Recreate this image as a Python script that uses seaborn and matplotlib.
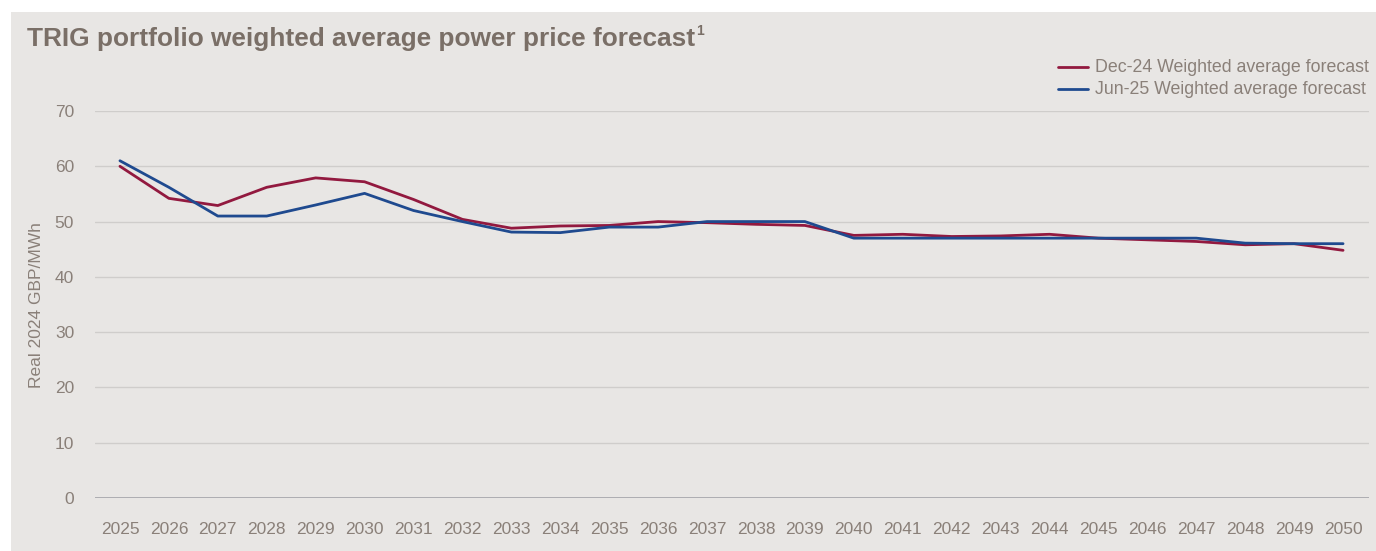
import pandas as pd
import matplotlib.pyplot as plt
import seaborn as sns
from matplotlib.patches import Rectangle

# =========================
# DATA
# =========================

years = list(range(2025, 2051))

dec24 = [60.0, 54.2, 52.9, 56.2, 57.9, 57.2, 54.0, 50.4, 48.8, 49.2,
         49.3, 50.0, 49.8, 49.5, 49.3, 47.5, 47.7, 47.3, 47.4, 47.7,
         47.0, 46.7, 46.4, 45.8, 46.0, 44.8]

jun25 = [61.0, 56.2, 51.0, 51.0, 53.0, 55.1, 52.0, 50.0, 48.1, 48.0,
         49.0, 49.0, 50.0, 50.0, 50.0, 47.0, 47.0, 47.0, 47.0, 47.0,
         47.0, 47.0, 47.0, 46.1, 46.0, 46.0]

series_names = ["Dec-24 Weighted average forecast", "Jun-25 Weighted average forecast"]
y_ticks = [0, 10, 20, 30, 40, 50, 60, 70]

df = pd.DataFrame({
    "year": years * 2,
    "price": dec24 + jun25,
    "series": [series_names[0]] * len(years) + [series_names[1]] * len(years),
})

# =========================
# STYLE
# =========================

bg = "#e8e6e4"
text_col = "#8a8079"
title_col = "#7a6f67"
palette = {series_names[0]: "#92193f", series_names[1]: "#1f4a8f"}

sns.set_style("white")
plt.rcParams["font.family"] = ["Liberation Sans", "DejaVu Sans"]

fig = plt.figure(figsize=(13.76, 5.51), dpi=100)
fig.patch.set_facecolor("white")
fig.add_artist(Rectangle((11 / 1376, 0), 1 - 11 / 1376, 1 - 12 / 551,
                         transform=fig.transFigure, facecolor=bg,
                         edgecolor="none", zorder=-10))

ax = fig.add_axes([95 / 1376, 1 - 498 / 551, (1369 - 95) / 1376, (498 - 111) / 551])
ax.set_facecolor(bg)

# =========================
# LINES
# =========================

sns.lineplot(data=df, x="year", y="price", hue="series", palette=palette,
             linewidth=2.0, ax=ax, legend=False)

ax.set_xlim(2024.49, 2050.53)
ax.set_ylim(0, 70)
ax.set_xticks(years)
ax.set_yticks(y_ticks)
ax.tick_params(axis="both", length=0, colors=text_col, labelsize=12.5)
ax.tick_params(axis="x", pad=17)
ax.tick_params(axis="y", pad=15)

for t in y_ticks[1:]:
    ax.axhline(t, color="#cfcdcb", linewidth=1.0, zorder=0)
ax.axhline(0, color="#a3a3a8", linewidth=1.2, zorder=0)

for s in ax.spines.values():
    s.set_visible(False)

ax.set_xlabel("")
ax.set_ylabel("")
fig.text(37 / 1376, 1 - 305 / 551, "Real 2024 GBP/MWh", rotation=90,
         ha="center", va="center", color=text_col, fontsize=12.5)

# =========================
# TITLE AND LEGEND
# =========================

title = fig.text(27 / 1376, 1 - 39 / 551, "TRIG portfolio weighted average power price forecast",
                 ha="left", va="center", color=title_col, fontsize=18.9, fontweight="bold")
fig.canvas.draw()
bb = title.get_window_extent()
fig.text(bb.x1 / 1376 + 0.0005, 1 - 31 / 551, "1", ha="left", va="center",
         color=title_col, fontsize=10, fontweight="bold")

for i, name in enumerate(series_names):
    yy = 1 - (67 + 22 * i) / 551
    fig.add_artist(plt.Line2D([1058 / 1376, 1088 / 1376], [yy, yy],
                              color=palette[name], linewidth=2.0,
                              transform=fig.transFigure))
    fig.text(1095 / 1376, yy, name, ha="left", va="center",
             color=text_col, fontsize=12.8)

fig.savefig("out.png", dpi=100, facecolor=fig.get_facecolor())
